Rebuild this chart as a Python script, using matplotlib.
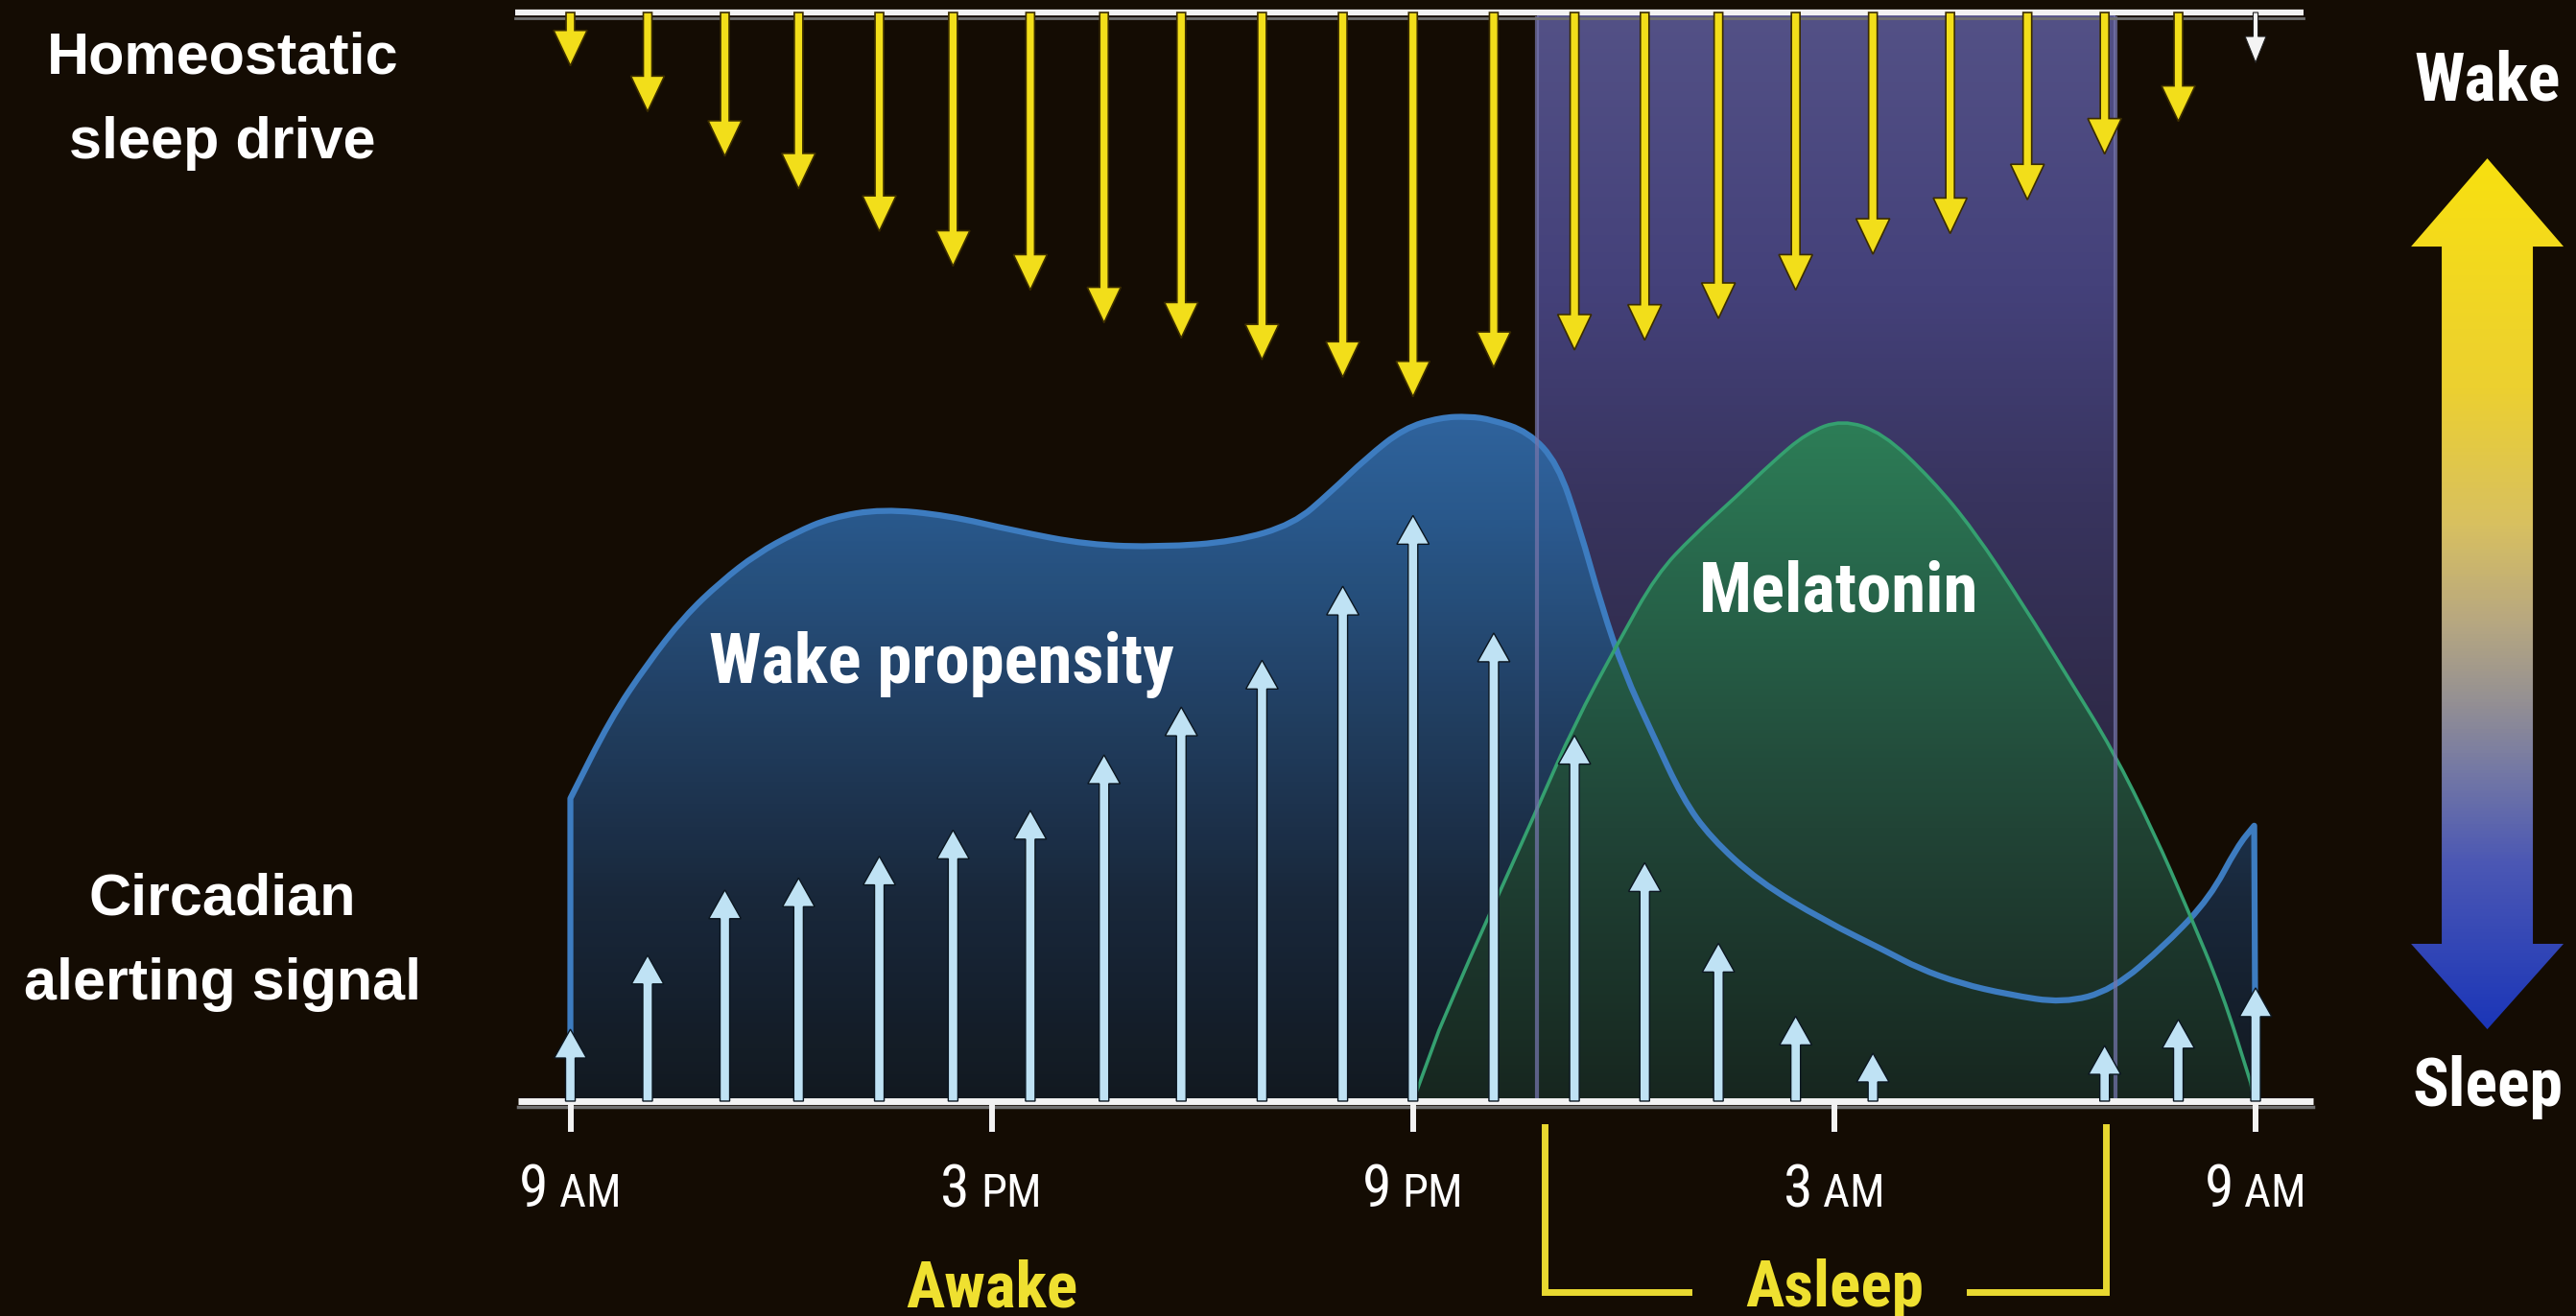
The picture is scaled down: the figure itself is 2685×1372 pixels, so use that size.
import numpy as np
import matplotlib
matplotlib.use("Agg")
import matplotlib.pyplot as plt
from matplotlib import font_manager
from matplotlib.colors import LinearSegmentedColormap
from matplotlib.patches import Polygon, FancyArrow, PathPatch
from matplotlib.path import Path

# x = hours after 9 AM, y = relative level (0 = time axis, 100 = top line)
drive_hours = [0.0, 1.1, 2.2, 3.25, 4.4, 5.45, 6.55, 7.6, 8.7, 9.85, 11.0, 12.0,
               13.15, 14.3, 15.3, 16.35, 17.45, 18.55, 19.65, 20.75, 21.85, 22.9, 24.0]
sleep_drive = [4.9, 9.1, 13.2, 16.2, 20.1, 23.3, 25.5, 28.5, 29.9, 31.9, 33.5, 35.3,
               32.6, 31.0, 30.1, 28.1, 25.5, 22.2, 20.3, 17.2, 13.0, 10.0, 4.6]
alerting_signal = [6.6, 13.4, 19.4, 20.5, 22.5, 24.9, 26.7, 31.8, 36.2, 40.5, 47.3, 53.8,
                   43.0, 33.6, 21.9, 14.5, 7.8, 4.4, 0.0, 0.0, 5.1, 7.5, 10.4]

wake_hours = [0.0, 0.0, 0.57, 1.1, 1.62, 2.14, 2.66, 3.2, 3.71, 4.44, 5.38, 6.32, 7.37,
              8.41, 9.46, 10.3, 10.82, 11.34, 11.87, 12.39, 12.8, 13.12, 13.64, 14.06,
              14.37, 14.69, 15.0, 15.42, 15.84, 16.24, 16.92, 17.85, 18.76, 19.2, 19.8,
              20.47, 21.26, 21.96, 22.74, 23.35, 23.74, 23.98, 24.0]
wake_level = [0.0, 27.8, 35.1, 40.2, 44.5, 47.7, 50.3, 52.2, 53.6, 54.4, 53.8, 52.4, 51.1,
              50.9, 51.4, 53.0, 55.9, 59.1, 61.8, 62.8, 62.9, 62.6, 61.5, 58.6,
              52.7, 45.4, 39.5, 33.6, 27.8, 24.2, 20.2, 16.6, 13.7, 12.2, 10.8,
              9.8, 9.0, 10.2, 14.5, 18.7, 23.4, 25.3, 0.0]

mel_hours = [12.0, 12.37, 12.8, 13.29, 13.8, 14.29, 14.92, 15.47, 16.0, 16.6, 17.1, 17.61,
             18.11, 18.69, 19.39, 19.98, 20.68, 21.36, 21.96, 22.55, 23.04, 23.53, 23.93, 23.98]
mel_level = [0.0, 6.5, 13.0, 20.0, 27.3, 34.5, 42.1, 48.4, 52.0, 55.5, 58.6, 61.4,
             62.6, 61.4, 57.1, 52.5, 45.7, 38.6, 32.3, 24.7, 17.5, 9.9, 1.7, 0.0]

tick_hours = [0, 6, 12, 18, 24]
tick_numbers = ['9', '3', '9', '3', '9']
tick_suffixes = ['AM', 'PM', 'PM', 'AM', 'AM']
sleep_start, sleep_end = 13.77, 22.0

BG = '#140c03'
YELLOW = '#f2de1a'

# pick the narrowest sans available for the condensed labels
fl = font_manager.fontManager.ttflist
NARROW, STRETCH = 'Liberation Sans', 'normal'
for cand in ['Liberation Sans Narrow', 'Arial Narrow', 'Roboto Condensed',
             'Noto Sans Condensed', 'Open Sans Condensed']:
    if any(f.name == cand for f in fl):
        NARROW = cand
        break
else:
    for fam in ['Noto Sans', 'Roboto', 'Open Sans']:
        if any(f.name == fam and 'condensed' in str(f.stretch) for f in fl):
            NARROW, STRETCH = fam, 'condensed'
            break

fig = plt.figure(figsize=(26.85, 13.72), dpi=100, facecolor=BG)
ax = fig.add_axes([0, 0, 1, 1])
ax.set_autoscale_on(False)
ax.axis('off')
ax.set_xlim(-8.123, 28.563)
ax.set_ylim(-19.74, 101.15)

# scale the condensed font so "Wake propensity" is as wide as in the reference (~484 px)
renderer = fig.canvas.get_renderer()
probe = ax.text(0, 0, 'Wake propensity', fontsize=54, family=NARROW, fontstretch=STRETCH,
                weight='bold')
k = 484.0 / probe.get_window_extent(renderer).width
probe.remove()


def smooth_path(xs, ys, close):
    # straight end segments, quadratic smoothing through the inner points
    p = list(zip(xs, ys))
    inner = p[1:-1]
    mids = [((a[0] + b[0]) / 2, (a[1] + b[1]) / 2) for a, b in zip(inner[:-1], inner[1:])]
    verts = [p[0], p[1], mids[0]]
    codes = [Path.MOVETO, Path.LINETO, Path.LINETO]
    for i in range(1, len(inner) - 1):
        verts += [inner[i], mids[i]]
        codes += [Path.CURVE3, Path.CURVE3]
    verts += [inner[-1], p[-1]]
    codes += [Path.LINETO, Path.LINETO]
    if close:
        verts.append(p[0])
        codes.append(Path.CLOSEPOLY)
    return Path(verts, codes)


def gradient_fill(clip, colors, x0, x1, y0, y1, z, alpha=1.0):
    ax.add_patch(clip)
    cmap = LinearSegmentedColormap.from_list('g', colors)
    im = ax.imshow(np.linspace(0, 1, 256).reshape(-1, 1), cmap=cmap, origin='lower',
                   aspect='auto', extent=[x0, x1, y0, y1], zorder=z,
                   alpha=alpha, interpolation='bilinear')
    im.set_clip_path(clip)


# sleep window band
band = Polygon([(sleep_start, 0), (sleep_end, 0), (sleep_end, 100), (sleep_start, 100)],
               closed=True, fc='none', ec='none')
gradient_fill(band, [(0, '#221b2c'), (0.3, '#2d2844'), (0.55, '#38345e'),
                     (0.75, '#44417a'), (1, '#535186')], sleep_start, sleep_end, 0, 100, 1)

# wake propensity and melatonin areas
wake_clip = PathPatch(smooth_path(wake_hours, wake_level, True), fc='none', ec='none')
gradient_fill(wake_clip, [(0, '#121a22'), (0.3, '#1a2a3f'), (0.6, '#23456c'),
                          (0.85, '#2b5d93'), (1, '#3168a6')],
              min(wake_hours), max(wake_hours), 0, max(wake_level), 2, 0.95)
mel_clip = PathPatch(smooth_path(mel_hours, mel_level, True), fc='none', ec='none')
gradient_fill(mel_clip, [(0, '#18271f'), (0.4, '#214636'), (0.75, '#27684a'),
                         (1, '#2d8257')],
              min(mel_hours), max(mel_hours), 0, max(mel_level), 3, 0.95)
ax.add_patch(PathPatch(smooth_path(wake_hours, wake_level, False), fc='none', ec='#3d7cc0',
                       lw=4.5, zorder=4, joinstyle='round'))
ax.add_patch(PathPatch(smooth_path(mel_hours, mel_level, False), fc='none', ec='#35a070',
                       lw=2.6, zorder=4, joinstyle='round'))
for x in (sleep_start, sleep_end):
    ax.plot([x, x], [0, 99.5], color='#7474aa', lw=3, alpha=0.75, zorder=4.5)

# axis lines and ticks
ax.plot([-0.74, 24.82], [-0.55, -0.55], color='#707070', lw=2.5, zorder=5)
ax.plot([-0.74, 24.82], [0, 0], color='#f2f2f2', lw=5, zorder=5.1, solid_capstyle='butt')
ax.plot([-0.79, 24.68], [99.45, 99.45], color='#707070', lw=2, zorder=5)
ax.plot([-0.79, 24.68], [100, 100], color='#f2f2f2', lw=4.5, zorder=5.1, solid_capstyle='butt')
for h, num, suf in zip(tick_hours, tick_numbers, tick_suffixes):
    ax.plot([h, h], [0, -2.8], color='#f2f2f2', lw=4.3, zorder=5, solid_capstyle='butt')
    ax.text(h - 0.31, -9.7, num, ha='right', va='baseline', color='white',
            fontsize=46 * k, family=NARROW, fontstretch=STRETCH)
    ax.text(h - 0.16, -9.7, suf, ha='left', va='baseline', color='white',
            fontsize=36 * k, family=NARROW, fontstretch=STRETCH)

# homeostatic sleep drive arrows (down from the top line)
for i, (h, d) in enumerate(zip(drive_hours, sleep_drive)):
    if i == len(drive_hours) - 1:
        ax.add_patch(FancyArrow(h, 100, 0, -d, width=0.07, head_width=0.30, head_length=2.4,
                                length_includes_head=True, fc='#f4f4f4', ec='#202020',
                                lw=0.8, zorder=6))
    else:
        ax.add_patch(FancyArrow(h, 100, 0, -d, width=0.123, head_width=0.48, head_length=3.26,
                                length_includes_head=True, fc=YELLOW, ec='#3a2c00',
                                lw=1.2, zorder=6))

# circadian alerting signal arrows (up from the axis)
for h, a in zip(drive_hours, alerting_signal):
    if a <= 0:
        continue
    ax.add_patch(FancyArrow(h, 0, 0, a, width=0.137, head_width=0.46, head_length=2.64,
                            length_includes_head=True, fc='#bfe2f4', ec='#0b1620',
                            lw=1.0, zorder=6))

# text labels
bold_n = dict(family=NARROW, fontstretch=STRETCH, weight='bold')
ax.text(5.28, 38.4, 'Wake propensity', ha='center', va='baseline', fontsize=54 * k,
        color='white', zorder=7, **bold_n)
ax.text(18.07, 45.0, 'Melatonin', ha='center', va='baseline', fontsize=54 * k,
        color='white', zorder=7, **bold_n)
ax.text(27.30, 91.9, 'Wake', ha='center', va='baseline', fontsize=52 * k, color='white', **bold_n)
ax.text(27.30, -0.44, 'Sleep', ha='center', va='baseline', fontsize=52 * k, color='white', **bold_n)
ax.text(6, -18.9, 'Awake', ha='center', va='baseline', fontsize=50 * k, color='#efe030', **bold_n)
ax.text(18, -18.9, 'Asleep', ha='center', va='baseline', fontsize=50 * k, color='#efe030', **bold_n)

left = dict(ha='center', va='baseline', fontsize=44, family='Liberation Sans',
            weight='bold', color='white')
ax.text(-4.95, 94.4, 'Homeostatic', **left)
ax.text(-4.95, 86.6, 'sleep drive', **left)
ax.text(-4.95, 17.1, 'Circadian', **left)
ax.text(-4.95, 9.3, 'alerting signal', **left)

# bracket for the sleep period
bx0, bx1, gap0, gap1, btop, bbot = 13.87, 21.87, 15.93, 19.93, -2.4, -17.5
ax.plot([gap0, bx0, bx0], [bbot, bbot, btop], color='#e8d830', lw=5, solid_joinstyle='miter')
ax.plot([gap1, bx1, bx1], [bbot, bbot, btop], color='#e8d830', lw=5, solid_joinstyle='miter')

# wake/sleep gradient double arrow
cx, sw, hw = 27.30, 0.649, 1.086
top, tb, bb, bot = 86.6, 78.5, 14.45, 6.6
arrow = Polygon([(cx, top), (cx + hw, tb), (cx + sw, tb), (cx + sw, bb), (cx + hw, bb),
                 (cx, bot), (cx - hw, bb), (cx - sw, bb), (cx - sw, tb), (cx - hw, tb)],
                closed=True, fc='none', ec='none')
gradient_fill(arrow, [(0, '#1c36b8'), (0.19, '#4c58b4'), (0.30, '#767aa4'), (0.39, '#9a9490'),
                      (0.47, '#b8a880'), (0.58, '#d8c060'), (0.74, '#ecd030'), (1, '#f8e010')],
              cx - hw, cx + hw, bot, top, 3)

ax.set_xlim(-8.123, 28.563)
ax.set_ylim(-19.74, 101.15)
fig.savefig('out.png', dpi=100, facecolor=BG)
